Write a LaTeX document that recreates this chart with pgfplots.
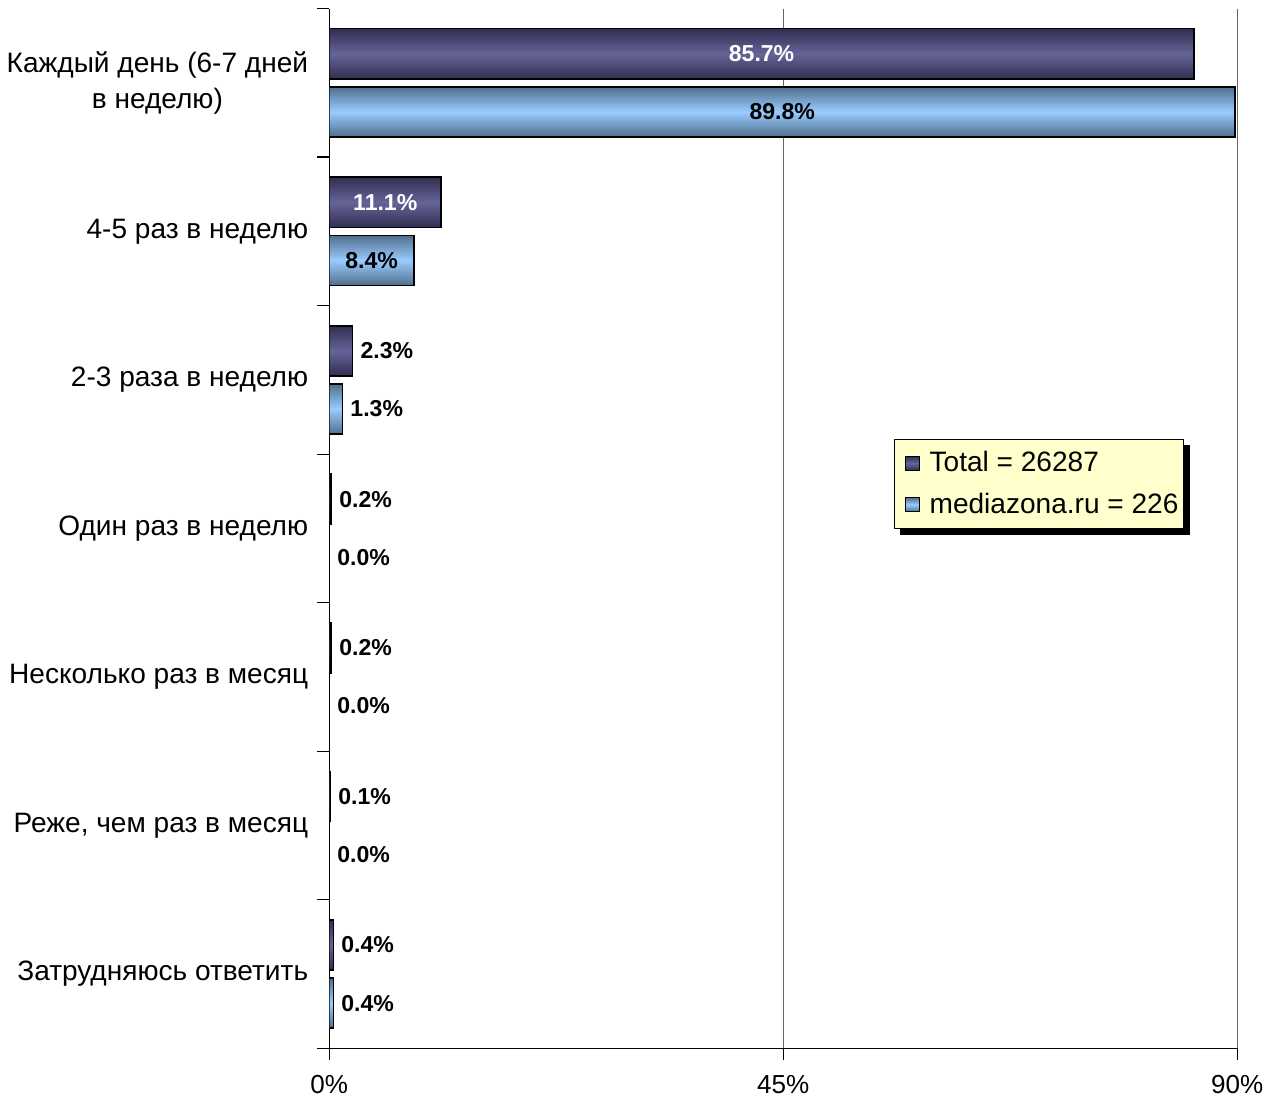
\documentclass[border=0pt]{standalone}
\usepackage{pgfplots}
\usepackage{pgfplotstable}
\pgfplotsset{compat=1.18}
\usepackage{fontspec}
\setmainfont{Liberation Sans}
\usetikzlibrary{backgrounds}
\definecolor{totEdge}{RGB}{48,46,80}
\definecolor{totMid}{RGB}{102,100,152}
\definecolor{medEdge}{RGB}{80,110,140}
\definecolor{medMid}{RGB}{153,204,255}
\definecolor{legFill}{RGB}{255,255,204}

\pgfplotstableread{
idx tot med
0 85.7 89.8
1 11.1 8.4
2 2.3 1.3
3 0.2 0.0
4 0.2 0.0
5 0.1 0.0
6 0.4 0.4
}\data

\pgfplotsset{
  totbar/.style={xbar, bar width=25pt, bar shift=14.5pt, draw=black, line width=0.8pt,
    top color=totEdge, bottom color=totEdge, middle color=totMid},
  medbar/.style={xbar, bar width=25pt, bar shift=-14.5pt, draw=black, line width=0.8pt,
    top color=medEdge, bottom color=medEdge, middle color=medMid},
  lbl/.style={forget plot, draw=none, mark=none,
    nodes near coords={\pgfmathprintnumber[fixed,fixed zerofill,precision=1]{\pgfplotspointmeta}\%}},
}

\begin{document}
\begin{tikzpicture}
\begin{axis}[
  scale only axis,
  width=453pt, height=518.75pt,
  xmin=0, xmax=90,
  ymin=-0.5, ymax=6.5,
  y dir=reverse,
  axis x line*=bottom,
  axis y line*=left,
  /pgf/number format/assume math mode=true,
  xtick={0,45,90},
  xticklabels={0\%,45\%,90\%},
  xmajorgrids,
  grid style={black!60, line width=0.6pt},
  tick align=outside,
  major tick length=6pt,
  ytick={-0.5,0.5,...,6.5},
  yticklabels={},
  extra y ticks={0,1,2,3,4,5,6},
  extra y tick labels={{Каждый день (6-7 дней\\в неделю)},
    4-5 раз в неделю, 2-3 раза в неделю, Один раз в неделю,
    Несколько раз в месяц, {Реже, чем раз в месяц}, Затрудняюсь ответить},
  extra y tick style={major tick length=0pt,
    yticklabel style={align=center, xshift=-7pt, font=\fontsize{14}{18}\selectfont}},
  xticklabel style={yshift=-4pt, font=\fontsize{13}{16}\selectfont},
  axis line style={black, line width=0.6pt},
  tick style={black, line width=0.6pt},
  legend style={name=leg, at={(0.6225,0.586)}, anchor=north west,
    fill=legFill, draw=black, line width=0.5pt,
    font=\fontsize{14}{16}\selectfont,
    row sep=5pt, inner xsep=0.5pt, inner ysep=4pt},
  legend cell align=left,
  legend image code/.code={
    \path (0pt,0pt) (14pt,0pt);
    \draw[#1, line width=0.6pt] (4.5pt,-3.5pt) rectangle (11.5pt,3.5pt);},
]
% one plot per bar, so that each bar gets its own shading
\pgfplotsinvokeforeach{0,...,6}{
  \addplot[totbar, forget plot, restrict y to domain=#1:#1] table[x=tot, y=idx] \data;
  \addplot[medbar, forget plot, restrict y to domain=#1:#1] table[x=med, y=idx] \data;
}
\addlegendimage{totbar}
\addlegendentry{Total = 26287}
\addlegendimage{medbar}
\addlegendentry{mediazona.ru = 226}

% labels inside the long bars
\addplot[lbl, restrict y to domain=0:1, point meta=\thisrow{tot},
  nodes near coords style={anchor=center, yshift=14.5pt, text=white, font=\bfseries\fontsize{11.5}{13}\selectfont}]
  table[x expr=\thisrow{tot}/2, y=idx] \data;
\addplot[lbl, restrict y to domain=0:1, point meta=\thisrow{med},
  nodes near coords style={anchor=center, yshift=-14.5pt, text=black, font=\bfseries\fontsize{11.5}{13}\selectfont}]
  table[x expr=\thisrow{med}/2, y=idx] \data;
% labels beside the short bars
\addplot[lbl, restrict y to domain=2:6, point meta=\thisrow{tot},
  nodes near coords style={anchor=west, xshift=0.5pt, yshift=14.5pt, text=black, font=\bfseries\fontsize{11.5}{13}\selectfont}]
  table[x=tot, y=idx] \data;
\addplot[lbl, restrict y to domain=2:6, point meta=\thisrow{med},
  nodes near coords style={anchor=west, xshift=0.5pt, yshift=-14.5pt, text=black, font=\bfseries\fontsize{11.5}{13}\selectfont}]
  table[x=med, y=idx] \data;

\coordinate (axtop) at (axis cs:0,-0.5);
\coordinate (axbot) at (axis cs:0,6.5);
\end{axis}
\begin{scope}[on background layer]
  \fill[black] ([shift={(3pt,-3pt)}]leg.south west) rectangle ([shift={(3pt,-3pt)}]leg.north east);
\end{scope}
% page margins as in the reference
\path ([shift={(-160.5pt,4.25pt)}]axtop) ([shift={(466pt,-25.5pt)}]axbot);
\end{tikzpicture}
\end{document}
